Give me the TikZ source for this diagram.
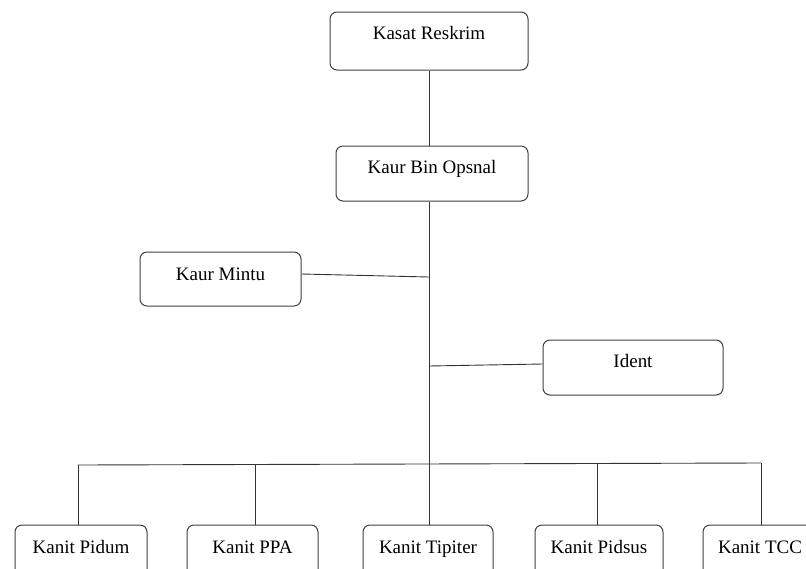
\documentclass[tikz,border=0pt]{standalone}
\usepackage{fontspec}
\setmainfont{Liberation Serif}
\begin{document}
\begin{tikzpicture}[x=1pt,y=-1pt,
  box/.style={draw=black!75, line width=1pt, rounded corners=7pt, inner sep=0pt, fill=white, font=\fontsize{19}{22}\selectfont},
  ln/.style={draw=black!80, line width=0.9pt}]
\useasboundingbox (0,0) rectangle (806,568);
\clip (0,0) rectangle (806,568);
% top boxes
\node[box, minimum width=198pt, text height=27pt, text depth=31pt] (kasat) at (429,41) {Kasat Reskrim};
\node[box, minimum width=192pt, text height=27pt, text depth=28pt] (bin) at (432,173.5) {Kaur Bin Opsnal};
\node[box, minimum width=161pt, text height=28pt, text depth=26pt] (mintu) at (220.5,279) {Kaur Mintu};
\node[box, minimum width=180pt, text height=27pt, text depth=28pt] (ident) at (633,367.5) {Ident};
% bottom boxes
\node[box, minimum width=132pt, text height=28pt, text depth=27pt] (pidum) at (81,552.5) {Kanit Pidum};
\node[box, minimum width=131pt, text height=28pt, text depth=27pt] (ppa) at (252.5,552.5) {Kanit PPA};
\node[box, minimum width=130pt, text height=28pt, text depth=27pt] (tipiter) at (428,552.5) {Kanit Tipiter};
\node[box, minimum width=128pt, text height=28pt, text depth=27pt] (pidsus) at (599,552.5) {Kanit Pidsus};
\node[box, minimum width=130pt, text height=28pt, text depth=27pt] (tcc) at (768,552.5) {Kanit TCC\hspace*{16pt}};
% junctions
\coordinate (jm) at (429,277);
\coordinate (ji) at (429,366);
\coordinate (trunk) at (429,464);
\coordinate (busL) at (78,465);
\coordinate (busR) at (761,463);
% connectors
\draw[ln] (kasat.south) -- (kasat.south |- bin.north);
\draw[ln] (bin.south -| trunk) -- (trunk);
\draw[ln] ([yshift=5pt]mintu.east) -- (jm);
\draw[ln] ([yshift=3.5pt]ident.west) -- (ji);
\draw[ln] (busL) -- (busR);
\draw[ln] (pidum.north -| busL) -- (busL);
\draw[ln] (ppa.north -| 255,0) -- (255,464);
\draw[ln] (tipiter.north -| trunk) -- (trunk);
\draw[ln] (pidsus.north -| 597,0) -- (597,464);
\draw[ln] (tcc.north -| busR) -- (busR);
\end{tikzpicture}
\end{document}
